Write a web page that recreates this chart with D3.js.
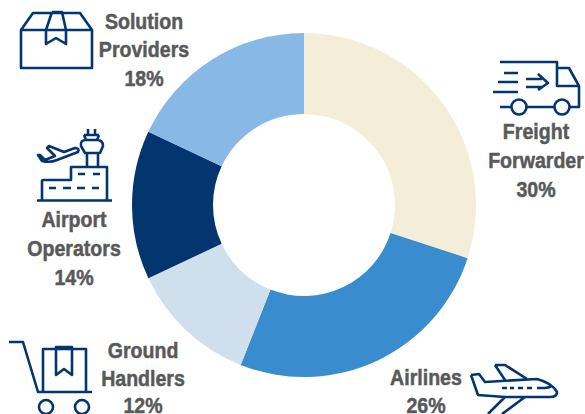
<!DOCTYPE html>
<html>
<head>
<meta charset="utf-8">
<script src="https://cdn.jsdelivr.net/npm/d3@7"></script>
<style>
  html, body { margin: 0; padding: 0; background: #fff; overflow: hidden; }
  text { font-family: "Liberation Sans", sans-serif; font-weight: 700; }
</style>
</head>
<body>
<svg id="chart" width="585" height="414"></svg>
<script>
const categories = ['Freight Forwarder', 'Airlines', 'Ground Handlers', 'Airport Operators', 'Solution Providers'];
const shares = [30, 26, 12, 14, 18];
const sliceColors = ['#f4eed9', '#398dcf', '#cfdfeb', '#03356f', '#88b9e6'];

const width = 585;
const height = 414;
const cx = 304;
const cy = 205;
const outerRadius = 172;
const innerRadius = 91;
const navy = '#03356f';
const narrow = 0.89; // no condensed bold installed, squeeze the sans instead

const svg = d3.select('#chart').attr('viewBox', `0 0 ${width} ${height}`);

const pie = d3.pie().sort(null)(shares);
const arc = d3.arc().innerRadius(innerRadius).outerRadius(outerRadius);

svg.append('g')
  .attr('transform', `translate(${cx},${cy})`)
  .selectAll('path')
  .data(pie)
  .join('path')
  .attr('d', arc)
  .attr('fill', (d, i) => sliceColors[i]);

// label placement per category: centre x, then one baseline per line
const labelLayout = [
  { x: 536, lines: ['Freight', 'Forwarder'], ys: [139, 168, 197] },
  { x: 426, lines: ['Airlines'], ys: [385, 413] },
  { x: 143, lines: ['Ground', 'Handlers'], ys: [358, 386, 413] },
  { x: 74, lines: ['Airport', 'Operators'], ys: [227, 256, 285] },
  { x: 144, lines: ['Solution', 'Providers'], ys: [29, 57, 86] },
];

labelLayout.forEach((l, i) => {
  const rows = [...l.lines, `${shares[i]}%`];
  svg.append('g')
    .attr('aria-label', categories[i])
    .selectAll('text')
    .data(rows)
    .join('text')
    .attr('transform', (d, j) => `translate(${l.x},${l.ys[j]}) scale(${narrow},1)`)
    .attr('text-anchor', 'middle')
    .attr('font-size', 22)
    .attr('fill', '#595959')
    .attr('stroke', '#595959')
    .attr('stroke-width', 0.5)
    .text(d => d);
});

// outline icons, traced by hand in page pixels
const icons = [
  // box
  'M21,30 L33,13 H80 L92,30 V68 H21 Z M21,30 H92 M52,12 L46,30 V44 L56,38 L66,44 V30 L62,12 H52',
  // airport tower and terminal
  'M37,200.5 H112 M42,200 V181 Q42,180 44,180 H71 V167 H107 V200 M87,153 V167 M98,153 V167 M88,129 V135 M95,129 V135 M84,135 H99 M84,135 L86,140 H97 L99,135 M86,140 Q80,140 81,146 L85,153 H100 L103,146 Q103,140 97,140',
  'M49,188 H56 M63,188 H71 M77,188 H85 M92,188 H99 M78,174 H85 M93,174 H100',
  'M38,155 L42,161 Q50,163 57,160 L78,152 Q80,148 75,148 L64,152 L49,146 L47,148 L55,156 L45,160 L40,155 Z',
  // trolley
  'M9,342 H23 L38,392 H92 M43,392 V349 H86 V392 M56,347 H72 V375 L64,369 L56,375 Z',
  // truck
  'M500,62 H557 V86 H579 M557,68 H569 L579,86 V107 H569 M504,73 H518 M498,82 H518 M493,92 H518 M526,79 H542 M526,87 H542 M538,74 L548,83 L538,90 M500,107 H512 M527,107 H554',
  // airplane
  'M471,375 L479,374 L485,382 L537,379 Q552,383 557,392 Q557,397 550,397 H525 L502,414 M471,375 L478,395 L505,397 L488,414 M505,397 H525 M495,365 H505 L527,379 M495,365 L505,380 M502,388 H507 M510,388 H514 M518,388 H523 M527,388 H532 M537,388 H544 Q550,388 552,385',
];

svg.append('g')
  .selectAll('path')
  .data(icons)
  .join('path')
  .attr('d', d => d)
  .attr('fill', 'none')
  .attr('stroke', navy)
  .attr('stroke-width', 2.6)
  .attr('stroke-linejoin', 'round');

// round parts of the icons (wheels)
const wheels = [
  [46, 407, 7], [82, 407, 7],
  [519, 107, 7.5], [562, 107, 7.5],
];

svg.append('g')
  .selectAll('circle')
  .data(wheels)
  .join('circle')
  .attr('cx', d => d[0])
  .attr('cy', d => d[1])
  .attr('r', d => d[2])
  .attr('fill', '#fff')
  .attr('stroke', navy)
  .attr('stroke-width', 2.6);
</script>
</body>
</html>
